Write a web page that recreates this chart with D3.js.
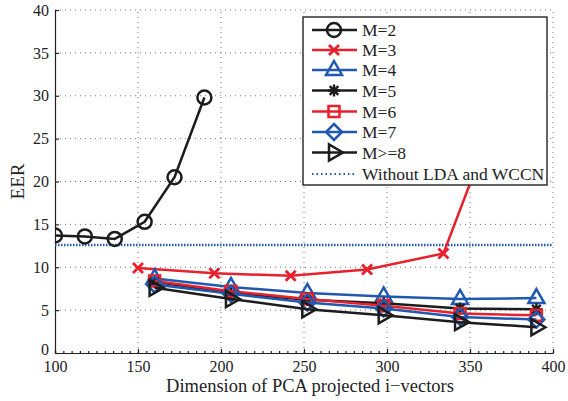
<!DOCTYPE html>
<html><head><meta charset="utf-8">
<script src="https://cdn.jsdelivr.net/npm/d3@7"></script>
<style>body{margin:0;background:#fff}svg{display:block}svg text{font-family:"Liberation Serif","Times New Roman",serif !important;fill:#222}</style>
</head><body><svg id="c" width="568" height="401"></svg>
<script>
const xTicks=[100,150,200,250,300,350,400];
const yTicks=[0,5,10,15,20,25,30,35,40];
const xM2=[100,118,136,154,172,190];
const yM2=[13.7,13.6,13.3,15.3,20.5,29.8];
const xM3=[150,196,242,288,334,380];
const yM3=[9.9,9.3,9.0,9.75,11.6,35];
const xRest=[160,206,252,298,344,390];
const yM4=[8.7,7.7,7.0,6.6,6.3,6.4];
const yM5=[8.3,7.0,6.2,5.8,5.2,5.1];
const yM6=[8.4,7.2,6.3,5.5,4.6,4.4];
const yM7=[8.0,6.9,5.9,5.2,4.2,3.9];
const yM8=[7.6,6.3,5.1,4.4,3.6,3.0];
const baseline=12.6;
const labels=["M=2","M=3","M=4","M=5","M=6","M=7","M>=8"];
const baseLabel="Without LDA and WCCN";

const FONT="Liberation Serif, Times New Roman, serif";
const BLACK="#1c1c1c",RED="#e8202d",BLUE="#2158b0";
const series=[
 {name:labels[0],xs:xM2,ys:yM2,color:BLACK,m:"circle"},
 {name:labels[1],xs:xM3,ys:yM3,color:RED,m:"x"},
 {name:labels[2],xs:xRest,ys:yM4,color:BLUE,m:"tri"},
 {name:labels[3],xs:xRest,ys:yM5,color:BLACK,m:"star"},
 {name:labels[4],xs:xRest,ys:yM6,color:RED,m:"sq"},
 {name:labels[5],xs:xRest,ys:yM7,color:BLUE,m:"dia"},
 {name:labels[6],xs:xRest,ys:yM8,color:BLACK,m:"tri-r"}
];
const svg=d3.select("#c");
const L=55,R=553,T=10,B=353;
const x=d3.scaleLinear().domain([100,400]).range([L,R]);
const y=d3.scaleLinear().domain([0,40]).range([B,T]);

// grid
const g=svg.append("g");
g.selectAll(".gx").data(xTicks.slice(1)).enter().append("line")
 .attr("x1",d=>x(d)).attr("x2",d=>x(d)).attr("y1",B).attr("y2",T)
 .attr("stroke","#777").attr("stroke-width",1).attr("stroke-dasharray","1,4");
g.selectAll(".gy").data(yTicks.slice(1)).enter().append("line")
 .attr("y1",d=>y(d)).attr("y2",d=>y(d)).attr("x1",L).attr("x2",R)
 .attr("stroke","#777").attr("stroke-width",1).attr("stroke-dasharray","1,4");

// axes
const xa=svg.append("g").attr("transform",`translate(0,${B})`)
 .call(d3.axisBottom(x).tickValues(xTicks).tickSize(-4).tickPadding(6).tickSizeOuter(0));
const xm=svg.append("g").attr("transform",`translate(0,${B})`)
 .call(d3.axisBottom(x).tickValues(d3.range(100,401,5)).tickSize(-2).tickFormat("").tickSizeOuter(0));
xm.select(".domain").remove();
const ya=svg.append("g").attr("transform",`translate(${L},0)`)
 .call(d3.axisLeft(y).tickValues(yTicks).tickSize(-4).tickPadding(6).tickSizeOuter(0));
[xa,ya,xm].forEach(a=>{a.attr("font-family",FONT).attr("font-size",16);
 a.selectAll("path,line").attr("stroke","#222").attr("stroke-width",1.2);
 a.selectAll("text").attr("font-family",FONT).attr("font-size",16).attr("fill","#222");});
xa.selectAll("text").attr("dy","0.8em");
ya.selectAll(".tick text").filter(d=>d===0).attr("dy","0.12em");

svg.append("text").attr("x",(L+R)/2+6).attr("y",392).attr("text-anchor","middle")
 .attr("font-family",FONT).attr("font-size",18.5).text("Dimension of PCA projected i\u2212vectors");
svg.append("text").attr("transform",`translate(24,${(T+B)/2}) rotate(-90)`).attr("text-anchor","middle")
 .attr("font-family",FONT).attr("font-size",19).text("EER");

// clip
svg.append("clipPath").attr("id","clip").append("rect").attr("x",L).attr("y",T).attr("width",R-L).attr("height",B-T);

const plot=svg.append("g").attr("clip-path","url(#clip)");
plot.append("line").attr("x1",L).attr("x2",R).attr("y1",y(baseline)).attr("y2",y(baseline))
 .attr("stroke",BLUE).attr("stroke-width",2.4).attr("stroke-dasharray","1.5,1.5");

function marker(sel,m,color){
 const sw=2.5;
 if(m==="circle") sel.append("circle").attr("r",7).attr("fill","none").attr("stroke",color).attr("stroke-width",sw);
 else if(m==="x") sel.append("path").attr("d","M-5,-5L5,5M-5,5L5,-5").attr("stroke",color).attr("stroke-width",2.8).attr("fill","none");
 else if(m==="tri") sel.append("path").attr("d","M0,-9L8,5L-8,5Z").attr("stroke",color).attr("stroke-width",sw).attr("fill","none");
 else if(m==="tri-r") sel.append("path").attr("d","M9,0L-5,-8L-5,8Z").attr("stroke",color).attr("stroke-width",sw).attr("fill","none");
 else if(m==="sq") sel.append("rect").attr("x",-5.5).attr("y",-5.5).attr("width",11).attr("height",11).attr("stroke",color).attr("stroke-width",sw).attr("fill","none");
 else if(m==="dia") sel.append("path").attr("d","M0,-8L8,0L0,8L-8,0Z").attr("stroke",color).attr("stroke-width",sw).attr("fill","none");
 else if(m==="star") sel.append("path").attr("d","M0,-6L0,6M-6,0L6,0M-4.3,-4.3L4.3,4.3M-4.3,4.3L4.3,-4.3").attr("stroke",color).attr("stroke-width",2.4).attr("fill","none");
}
const line=d3.line().x(d=>x(d[0])).y(d=>y(d[1]));
series.forEach(s=>{
 const pts=s.xs.map((v,i)=>[v,s.ys[i]]);
 plot.append("path").datum(pts).attr("d",line).attr("fill","none").attr("stroke",s.color).attr("stroke-width",2.5);
 pts.forEach(p=>{const gg=plot.append("g").attr("transform",`translate(${x(p[0])},${y(p[1])})`);marker(gg,s.m,s.color);});
});

// legend
const lg=svg.append("g");
lg.append("rect").attr("x",303).attr("y",17).attr("width",244).attr("height",168).attr("fill","#fff").attr("stroke","#222").attr("stroke-width",1.4);
const ly=[30,50,70,90.5,111.5,132,152.5];
series.forEach((s,i)=>{
 lg.append("line").attr("x1",312).attr("x2",357).attr("y1",ly[i]).attr("y2",ly[i]).attr("stroke",s.color).attr("stroke-width",2.5);
 const gg=lg.append("g").attr("transform",`translate(334,${ly[i]})`);marker(gg,s.m,s.color);
 lg.append("text").attr("x",362).attr("y",ly[i]).attr("dy","0.35em").attr("font-family",FONT).attr("font-size",17.5).text(s.name);
});
lg.append("line").attr("x1",312).attr("x2",357).attr("y1",174).attr("y2",174).attr("stroke",BLUE).attr("stroke-width",2).attr("stroke-dasharray","1.5,3");
lg.append("text").attr("x",362).attr("y",174).attr("dy","0.35em").attr("font-family",FONT).attr("font-size",17.5).text(baseLabel);
</script></body></html>
